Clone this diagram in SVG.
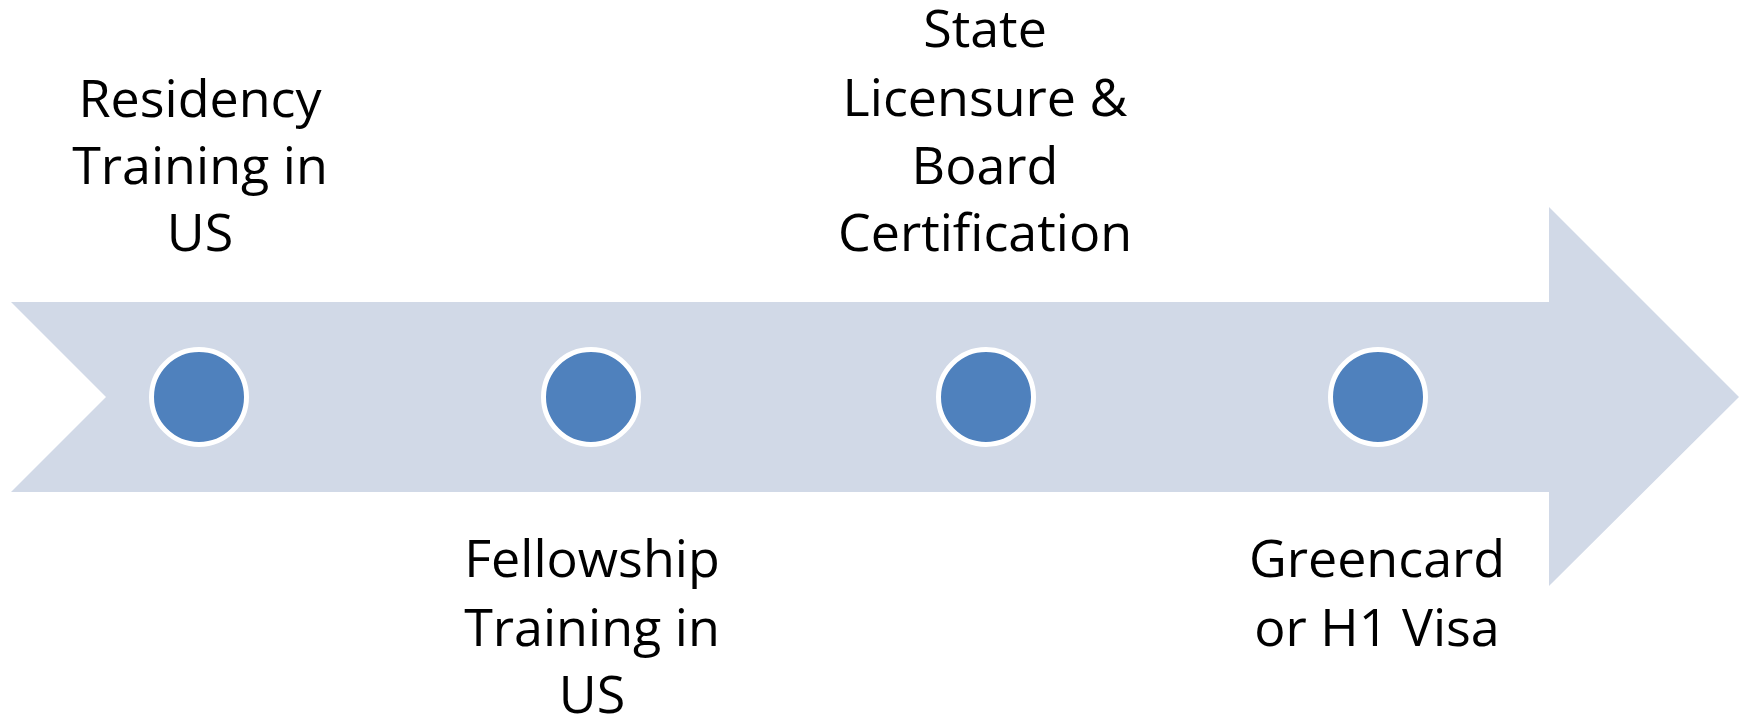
<svg xmlns="http://www.w3.org/2000/svg" width="1747" height="715" viewBox="0 0 1747 715">
<style>
.lbl{font-family:"Open Sans","Liberation Sans",sans-serif;font-size:52px;fill:#000;text-anchor:middle}
.dot{fill:#4F81BD;stroke:#FFFFFF;stroke-width:5}
</style>
<rect width="1747" height="715" fill="#FFFFFF"/>
<g id="arrow">
<polygon points="11,302 1549,302 1549,207 1739,397 1549,586 1549,492 11,492 106,397" fill="#D1D9E7"/>
</g>
<g id="connectors"></g>
<g id="node1">
<circle class="dot" cx="199" cy="397" r="47.5"/>
<text class="lbl"><tspan x="200" y="117">Residency</tspan><tspan x="200" y="184">Training in</tspan><tspan x="200" y="251">US</tspan></text>
</g>
<g id="node2">
<circle class="dot" cx="591" cy="397" r="47.5"/>
<text class="lbl"><tspan x="592" y="577">Fellowship</tspan><tspan x="592" y="646">Training in</tspan><tspan x="592" y="713">US</tspan></text>
</g>
<g id="node3">
<circle class="dot" cx="986" cy="397" r="47.5"/>
<text class="lbl"><tspan x="985" y="47">State</tspan><tspan x="985" y="116">Licensure &amp;</tspan><tspan x="985" y="184">Board</tspan><tspan x="985" y="251">Certification</tspan></text>
</g>
<g id="node4">
<circle class="dot" cx="1378" cy="397" r="47.5"/>
<text class="lbl"><tspan x="1377" y="577">Greencard</tspan><tspan x="1377" y="646">or H1 Visa</tspan></text>
</g>
</svg>
